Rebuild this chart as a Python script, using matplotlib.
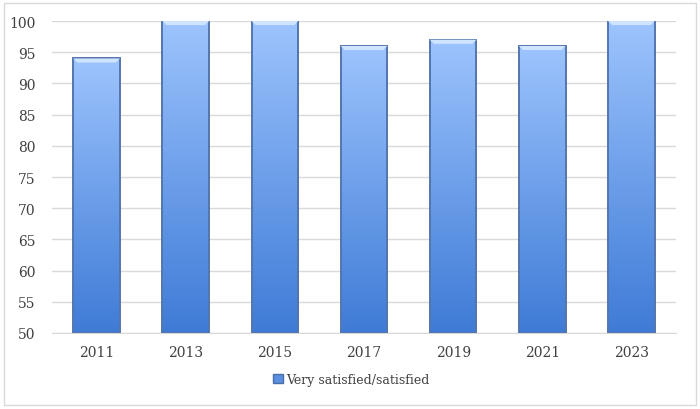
import numpy as np
import matplotlib
matplotlib.use("Agg")
import matplotlib.pyplot as plt
from matplotlib.patches import Rectangle, Polygon
from matplotlib.colors import LinearSegmentedColormap

years = ["2011", "2013", "2015", "2017", "2019", "2021", "2023"]
satisfied = [94, 100, 100, 96, 97, 96, 100]
series_name = "Very satisfied/satisfied"

plt.rcParams['font.family'] = ['DejaVu Serif']

fig = plt.figure(figsize=(7, 4.1), dpi=100)
ax = fig.add_axes([0.0743, 0.1854, 0.8914, 0.7609])

ymin, ymax = 50, 100
width = 0.523
grad = LinearSegmentedColormap.from_list("bar", ["#3f7bd6", "#6d9fea", "#9dc4fd"])
img = np.linspace(0, 1, 256).reshape(-1, 1)

x = np.arange(len(years))
for xi, v in zip(x, satisfied):
    left = xi - width / 2
    im = ax.imshow(img, cmap=grad, origin="lower", aspect="auto",
                   extent=(left, left + width, ymin, v), zorder=2)
    clip = Rectangle((left, ymin), width, v - ymin, transform=ax.transData)
    im.set_clip_path(clip)
    # darker edges round the bar
    ax.add_patch(Rectangle((left, ymin), width, v - ymin, fill=False,
                           edgecolor="#5476ad", linewidth=1.4, zorder=3))
    # bevel on top
    bev = 0.65
    dx = 0.045
    ax.add_patch(Polygon([(left, v), (left + width, v),
                          (left + width - dx, v - bev), (left + dx, v - bev)],
                         closed=True, facecolor="#cfe4ff", edgecolor="none", zorder=4))

ax.set_xlim(-0.5, len(years) - 0.5)
ax.set_ylim(ymin, ymax)
ax.set_yticks(range(50, 101, 5))
ax.set_xticks(x)
ax.set_xticklabels(years)
ax.yaxis.grid(True, color="#d9d9d9", linewidth=1.0, zorder=0)
ax.set_axisbelow(True)
for s in ["top", "right", "left"]:
    ax.spines[s].set_visible(False)
ax.spines["bottom"].set_color("#d9d9d9")
ax.tick_params(axis="both", length=0, labelsize=10, colors="#404040", pad=9)
ax.tick_params(axis="y", pad=12)

handle = Rectangle((0, 0), 1, 1, facecolor="#5b8fdf", edgecolor="#4a6fa8")
leg = fig.legend([handle], [series_name], loc="center", bbox_to_anchor=(0.502, 0.072),
                 frameon=False, fontsize=9, handlelength=0.75, handleheight=0.75,
                 handletextpad=0.3)
for t in leg.get_texts():
    t.set_color("#404040")

fig.add_artist(Rectangle((0.006, 0.01), 0.988, 0.98, transform=fig.transFigure,
                         fill=False, edgecolor="#d9d9d9", linewidth=1.0))

fig.savefig("out.png", dpi=100)
